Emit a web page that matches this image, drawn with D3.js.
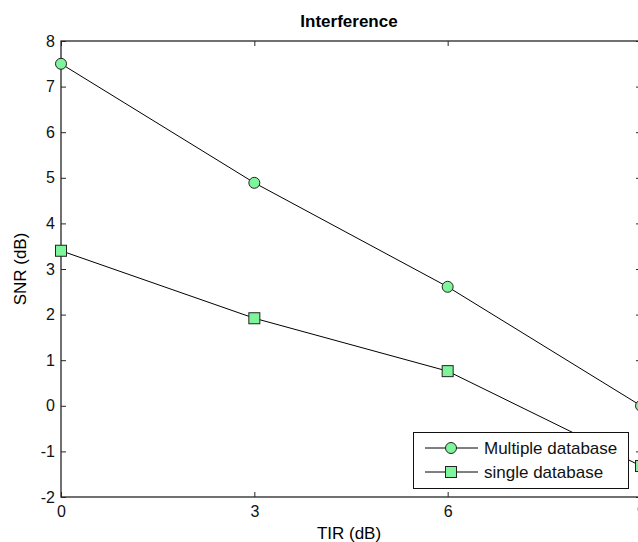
<!doctype html>
<html>
<head>
<meta charset="utf-8">
<style>
  body { margin: 0; background: #fff; }
  svg text { font-family: "Liberation Sans", Arial, sans-serif; }
</style>
<script src="https://d3js.org/d3.v7.min.js"></script>
</head>
<body>
<script>
var tirValues = [0, 3, 6, 9];
var multipleSnr = [7.5, 4.89, 2.61, 0.0];
var singleSnr = [3.4, 1.92, 0.76, -1.32];
var xTicks = [0, 3, 6, 9];
var yTicks = [-2, -1, 0, 1, 2, 3, 4, 5, 6, 7, 8];
var seriesNames = ["Multiple database", "single database"];

var W = 638, H = 542;
var plotLeft = 61, plotRight = 641, plotTop = 41, plotBottom = 497;

var svg = d3.select("body").append("svg")
    .attr("width", W).attr("height", H);

var x = d3.scaleLinear().domain([0, 9]).range([plotLeft, plotRight]);
var y = d3.scaleLinear().domain([-2, 8]).range([plotBottom, plotTop]);

// box + ticks
var axisCol = "#262626";
var fmt = function(d) { return String(d); };
svg.append("rect").attr("x", plotLeft).attr("y", plotTop)
    .attr("width", plotRight - plotLeft).attr("height", plotBottom - plotTop)
    .attr("fill", "none").attr("stroke", axisCol).attr("stroke-width", 1.3);

var gx = svg.append("g").attr("transform", "translate(0," + plotBottom + ")")
    .call(d3.axisBottom(x).tickValues(xTicks).tickSize(-5).tickPadding(9).tickFormat(fmt));
var gxt = svg.append("g").attr("transform", "translate(0," + plotTop + ")")
    .call(d3.axisTop(x).tickValues(xTicks).tickSize(-5).tickFormat(""));
var gy = svg.append("g").attr("transform", "translate(" + plotLeft + ",0)")
    .call(d3.axisLeft(y).tickValues(yTicks).tickSize(-5).tickPadding(6).tickFormat(fmt));
var gyr = svg.append("g").attr("transform", "translate(" + plotRight + ",0)")
    .call(d3.axisRight(y).tickValues(yTicks).tickSize(-5).tickFormat(""));

[gx, gxt, gy, gyr].forEach(function(g) {
    g.select(".domain").remove();
    g.selectAll(".tick line").attr("stroke", axisCol);
    g.selectAll(".tick text").attr("font-size", "16px").attr("fill", "#111");
});

// title and labels
svg.append("text").attr("x", 349).attr("y", 27).attr("text-anchor", "middle")
    .attr("font-size", "17px").attr("font-weight", "bold").text("Interference");
svg.append("text").attr("x", 349).attr("y", 539).attr("text-anchor", "middle")
    .attr("font-size", "17px").text("TIR (dB)");
svg.append("text").attr("transform", "translate(26," + 269 + ") rotate(-90)")
    .attr("text-anchor", "middle").attr("font-size", "17px").text("SNR (dB)");

var green = "#7ff59b";
var line = d3.line().x(function(d) { return x(d[0]); }).y(function(d) { return y(d[1]); });
var multi = tirValues.map(function(t, i) { return [t, multipleSnr[i]]; });
var single = tirValues.map(function(t, i) { return [t, singleSnr[i]]; });

svg.append("path").datum(multi).attr("d", line).attr("fill", "none").attr("stroke", "#000").attr("stroke-width", 1);
svg.append("path").datum(single).attr("d", line).attr("fill", "none").attr("stroke", "#000").attr("stroke-width", 1);

svg.selectAll(".circ").data(multi).enter().append("circle")
    .attr("cx", function(d) { return x(d[0]); })
    .attr("cy", function(d) { return y(d[1]); })
    .attr("r", 5.5).attr("fill", green).attr("stroke", "#222").attr("stroke-width", 1);

svg.selectAll(".sq").data(single).enter().append("rect")
    .attr("x", function(d) { return x(d[0]) - 5.5; })
    .attr("y", function(d) { return y(d[1]) - 5.5; })
    .attr("width", 11).attr("height", 11)
    .attr("fill", green).attr("stroke", "#222").attr("stroke-width", 1);

// legend
var lg = svg.append("g");
lg.append("rect").attr("x", 413.5).attr("y", 432.5).attr("width", 215).attr("height", 56)
    .attr("fill", "#fff").attr("stroke", "#111").attr("stroke-width", 1);
seriesNames.forEach(function(name, i) {
    var ly = 448 + i * 24;
    lg.append("line").attr("x1", 425).attr("x2", 478).attr("y1", ly).attr("y2", ly)
        .attr("stroke", "#000").attr("stroke-width", 1);
    if (i === 0) {
        lg.append("circle").attr("cx", 451).attr("cy", ly).attr("r", 5.5)
            .attr("fill", green).attr("stroke", "#222");
    } else {
        lg.append("rect").attr("x", 445.5).attr("y", ly - 5.5).attr("width", 11).attr("height", 11)
            .attr("fill", green).attr("stroke", "#222");
    }
    lg.append("text").attr("x", 484).attr("y", ly + 6).attr("font-size", "17px").attr("fill", "#111").text(name);
});
</script>
</body>
</html>
